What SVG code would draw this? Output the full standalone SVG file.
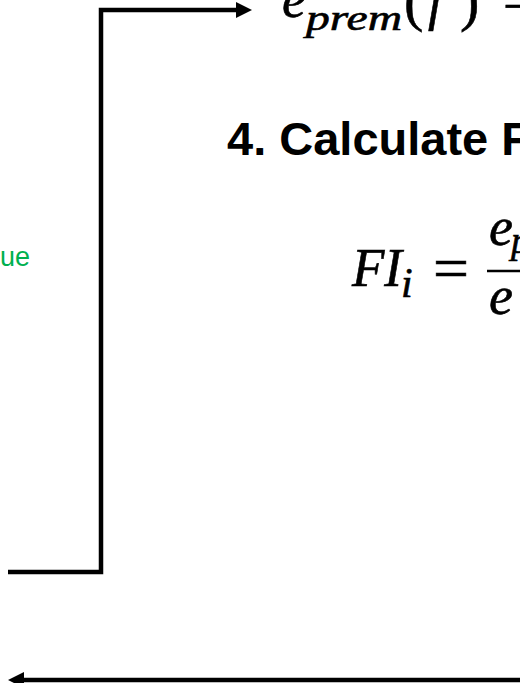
<svg xmlns="http://www.w3.org/2000/svg" width="520" height="683" viewBox="0 0 520 683">
<style>
.line{fill:none;stroke:#000;stroke-width:4.5;stroke-linejoin:miter}
.math{font-family:"Liberation Serif","Times New Roman",serif;font-style:italic;fill:#000;stroke:#000;stroke-width:0.6}
.up{font-style:normal}
.head{font-family:"Liberation Sans",Arial,sans-serif;font-weight:bold;font-size:47px;fill:#000}
.green{font-family:"Liberation Sans",Arial,sans-serif;font-size:27px;fill:#00B050}
</style>
<defs>
<marker id="arr" markerUnits="userSpaceOnUse" markerWidth="16" markerHeight="16" viewBox="0 0 16 16" refX="0" refY="8" orient="auto">
<path d="M0,0 L16,8 L0,16 Z" fill="#000"/>
</marker>
</defs>
<g id="connectors">
<path class="line" d="M8,572 H101 V10 H236" marker-end="url(#arr)"/>
<path class="line" d="M520,680 H24" marker-end="url(#arr)"/>
</g>
<g id="formula-top">
<text class="math" font-size="54"><tspan x="282" y="17">e</tspan><tspan x="306" y="30" font-size="36" textLength="96" lengthAdjust="spacingAndGlyphs">prem</tspan><tspan class="up" x="404" y="20" font-size="58">(</tspan><tspan x="428" y="19">f</tspan><tspan class="up" x="460" y="20" font-size="58">)</tspan><tspan class="up" x="503" y="24">−</tspan></text>
</g>
<g id="step4">
<text class="head" x="227" y="155">4. Calculate F</text>
</g>
<g id="label-green">
<text class="green" x="30" y="266" text-anchor="end">ue</text>
</g>
<g id="formula-fi">
<text class="math" font-size="54"><tspan x="352" y="286" textLength="50" lengthAdjust="spacingAndGlyphs">FI</tspan><tspan x="401" y="297" font-size="42">i</tspan><tspan class="up" x="433" y="288" font-size="60" textLength="36" lengthAdjust="spacingAndGlyphs">=</tspan><tspan x="489" y="245">e</tspan><tspan x="511" y="253" font-size="38">p</tspan><tspan x="489" y="314">e</tspan></text>
<line x1="487" y1="271" x2="520" y2="271" stroke="#000" stroke-width="2.5"/>
</g>
</svg>
